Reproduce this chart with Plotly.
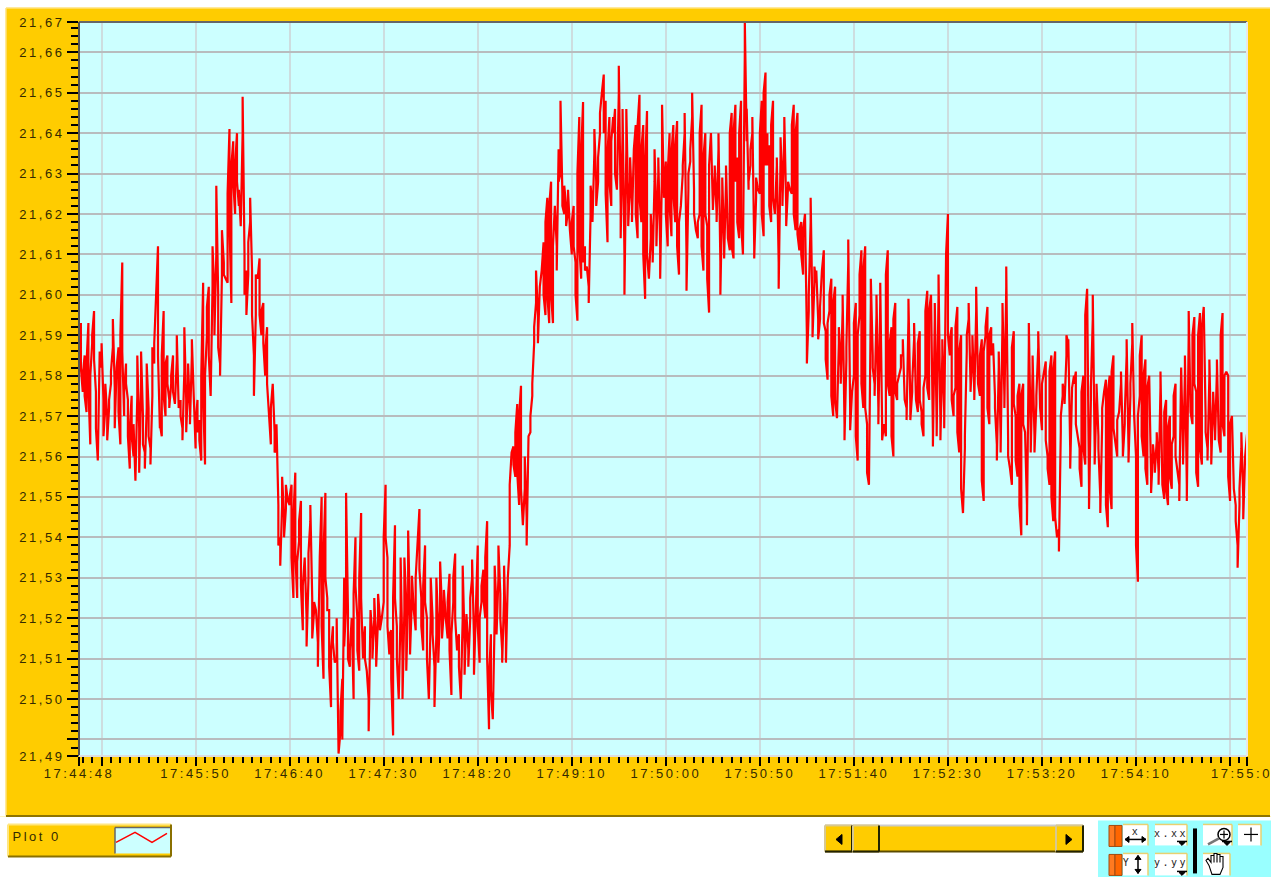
import numpy as np
import pandas as pd
import plotly.graph_objects as go

DAY = "2024-01-01 "
segment_edges = ["17:44:48", "17:45:50", "17:46:40", "17:47:30", "17:48:20", "17:49:10", "17:50:00",
                 "17:50:50", "17:51:40", "17:52:30", "17:53:20", "17:54:10", "17:55:09"]

seg01 = [21.581,21.593,21.576,21.585,21.571,21.593,21.563,21.588,21.596,21.576,21.559,21.586,21.588,21.565,21.578,
         21.564,21.574,21.581,21.594,21.567,21.587,21.563,21.608,21.570,21.583,21.574,21.557,21.575,21.560,21.554,
         21.585,21.556,21.586,21.563,21.557,21.583,21.565,21.558,21.587,21.588,21.612,21.567,21.565,21.596,21.570,
         21.585,21.574,21.578,21.585,21.573,21.590,21.572,21.570,21.564,21.592,21.566,21.583,21.568,21.589]
seg02 = [21.562,21.574,21.569,21.559,21.603,21.558,21.590,21.602,21.575,21.612,21.590,21.627,21.587,21.580,21.616,
         21.605,21.603,21.641,21.598,21.638,21.620,21.640,21.622,21.617,21.649,21.600,21.595,21.613,21.624,21.595,
         21.575,21.605,21.609,21.590,21.598,21.580,21.592,21.570,21.563,21.578,21.561,21.568,21.538,21.533,21.555,
         21.540,21.553]
seg03 = [21.548,21.553,21.525,21.556,21.525,21.539,21.549,21.517,21.535,21.513,21.536,21.548,21.515,21.524,21.522,
         21.508,21.550,21.505,21.551,21.525,21.522,21.498,21.518,21.509,21.520,21.4865,21.497,21.490,21.513,21.551,
         21.510,21.512,21.500,21.540,21.520,21.507,21.546,21.510,21.518,21.507,21.492,21.522,21.510,21.525,21.508,
         21.526,21.517]
seg04 = [21.524,21.553,21.535,21.511,21.517,21.491,21.543,21.518,21.500,21.535,21.500,21.535,21.507,21.5417,21.511,
         21.5305,21.517,21.538,21.547,21.525,21.512,21.538,21.520,21.500,21.530,21.516,21.498,21.530,21.509,21.534,
         21.515,21.527,21.515,21.531,21.501,21.524,21.536,21.512,21.516,21.500,21.533,21.506,21.521,21.508,21.525,
         21.5345,21.506]
seg05 = [21.538,21.509,21.524,21.532,21.520,21.544,21.4925,21.516,21.495,21.533,21.516,21.538,21.520,21.509,21.533,
         21.509,21.538,21.560,21.5625,21.555,21.573,21.548,21.5775,21.543,21.560,21.538,21.565,21.570,21.578,21.592,
         21.606,21.588,21.605,21.613,21.595,21.624,21.593,21.628,21.593,21.622,21.606,21.628,21.648,21.622,21.627,
         21.617,21.626]
seg06 = [21.610,21.622,21.608,21.5936,21.644,21.604,21.6477,21.612,21.607,21.598,21.627,21.618,21.641,21.622,21.634,
         21.645,21.6545,21.648,21.613,21.644,21.622,21.644,21.646,21.626,21.6567,21.614,21.646,21.600,21.646,21.617,
         21.634,21.618,21.642,21.614,21.6495,21.618,21.642,21.599,21.6455,21.604,21.620,21.608,21.636,21.612,21.634,
         21.604,21.647]
seg07 = [21.633,21.612,21.640,21.6145,21.642,21.618,21.643,21.605,21.622,21.632,21.645,21.601,21.630,21.636,21.650,
         21.620,21.614,21.620,21.647,21.606,21.640,21.617,21.5956,21.640,21.621,21.632,21.618,21.640,21.600,21.629,
         21.609,21.632,21.611,21.645,21.609,21.647,21.634,21.614,21.648,21.610,21.6675,21.646,21.628,21.636,21.644,
         21.609,21.629]
seg08 = [21.625,21.648,21.6145,21.655,21.640,21.637,21.618,21.648,21.620,21.634,21.6015,21.639,21.622,21.644,21.617,
         21.628,21.625,21.647,21.616,21.645,21.611,21.618,21.605,21.620,21.583,21.600,21.624,21.5895,21.607,21.606,
         21.589,21.597,21.611,21.591,21.579,21.596,21.604,21.570,21.602,21.5695,21.592,21.578,21.600,21.564,21.587,
         21.6137,21.5665]
seg09 = [21.580,21.598,21.559,21.595,21.611,21.572,21.612,21.568,21.553,21.604,21.582,21.575,21.600,21.568,21.603,
         21.564,21.565,21.611,21.575,21.592,21.560,21.598,21.574,21.580,21.585,21.589,21.574,21.569,21.599,21.569,
         21.578,21.593,21.571,21.591,21.571,21.565,21.580,21.601,21.574,21.600,21.5625,21.598,21.565,21.605,21.564,
         21.589,21.567]
seg10 = [21.620,21.585,21.592,21.570,21.577,21.597,21.561,21.590,21.546,21.565,21.590,21.598,21.576,21.590,21.574,
         21.602,21.575,21.589,21.549,21.590,21.597,21.568,21.592,21.588,21.572,21.559,21.586,21.561,21.598,21.572,
         21.607,21.560,21.553,21.591,21.570,21.555,21.578,21.5405,21.578,21.566,21.543,21.593,21.561,21.585,21.561,
         21.575,21.591]
seg11 = [21.5665,21.581,21.5835,21.560,21.553,21.585,21.544,21.586,21.540,21.5365,21.570,21.578,21.573,21.590,21.589,
         21.557,21.580,21.581,21.565,21.562,21.5525,21.580,21.558,21.6015,21.547,21.577,21.600,21.558,21.578,21.562,
         21.546,21.572,21.579,21.5425,21.580,21.547,21.585,21.564,21.560,21.571,21.581,21.560,21.570,21.589,21.5585,
         21.578,21.593]
seg12 = [21.560,21.529,21.575,21.590,21.560,21.584,21.553,21.580,21.551,21.563,21.556,21.566,21.553,21.581,21.5495,
         21.574,21.548,21.570,21.552,21.565,21.578,21.557,21.549,21.582,21.558,21.585,21.549,21.596,21.568,21.5945,
         21.576,21.5525,21.5955,21.558,21.597,21.566,21.559,21.584,21.558,21.576,21.564,21.584,21.561,21.5955,21.565,
         21.581,21.580,21.549,21.570,21.552,21.544,21.5325,21.552,21.566,21.5445,21.5655]
# in-between readings of the dense trace, one after each reading above
mid01 = [21.587,21.582,21.580,21.575,21.583,21.577,21.580,21.590,21.584,21.567,21.581,21.582,21.574,21.572,21.570,
         21.572,21.578,21.587,21.577,21.582,21.571,21.590,21.586,21.576,21.578,21.565,21.567,21.565,21.568,21.575,
         21.567,21.577,21.570,21.561,21.572,21.572,21.562,21.575,21.583,21.600,21.585,21.568,21.585,21.575,21.583,
         21.578,21.572,21.580,21.576,21.584,21.574,21.574,21.567,21.581,21.574,21.578,21.571,21.585,21.575]
mid02 = [21.568,21.566,21.564,21.580,21.575,21.580,21.597,21.585,21.602,21.600,21.610,21.600,21.583,21.605,21.608,
         21.604,21.625,21.618,21.632,21.628,21.632,21.628,21.626,21.640,21.610,21.606,21.605,21.618,21.606,21.585,
         21.595,21.604,21.595,21.596,21.588,21.586,21.578,21.570,21.572,21.566,21.562,21.548,21.540,21.548,21.545,
         21.547,21.549]
mid03 = [21.550,21.535,21.545,21.536,21.534,21.544,21.528,21.528,21.520,21.530,21.544,21.525,21.522,21.522,21.514,
         21.535,21.518,21.536,21.530,21.522,21.508,21.512,21.514,21.510,21.495,21.492,21.505,21.530,21.523,21.522,
         21.508,21.520,21.526,21.528,21.512,21.530,21.525,21.512,21.510,21.500,21.516,21.515,21.520,21.514,21.520,
         21.520,21.520]
mid04 = [21.540,21.540,21.518,21.516,21.505,21.525,21.525,21.510,21.522,21.510,21.522,21.524,21.525,21.520,21.525,
         21.522,21.530,21.540,21.532,21.518,21.528,21.524,21.510,21.520,21.520,21.508,21.516,21.518,21.522,21.522,
         21.522,21.520,21.524,21.512,21.516,21.530,21.520,21.514,21.508,21.520,21.514,21.518,21.512,21.520,21.530,
         21.515,21.522]
mid05 = [21.518,21.520,21.528,21.525,21.535,21.510,21.505,21.502,21.520,21.522,21.530,21.526,21.512,21.525,21.515,
         21.530,21.553,21.561,21.558,21.566,21.556,21.570,21.552,21.552,21.545,21.560,21.566,21.575,21.588,21.598,
         21.595,21.602,21.606,21.600,21.618,21.600,21.622,21.600,21.612,21.612,21.636,21.630,21.625,21.620,21.622,
         21.621,21.616]
mid06 = [21.618,21.612,21.600,21.630,21.612,21.635,21.608,21.606,21.602,21.620,21.622,21.635,21.628,21.628,21.640,
         21.650,21.640,21.625,21.635,21.628,21.638,21.640,21.630,21.650,21.622,21.640,21.610,21.636,21.622,21.628,
         21.622,21.636,21.620,21.642,21.624,21.636,21.610,21.632,21.610,21.614,21.610,21.628,21.618,21.630,21.612,
         21.632,21.624]
mid07 = [21.620,21.630,21.622,21.635,21.625,21.636,21.612,21.618,21.630,21.640,21.610,21.626,21.633,21.644,21.626,
         21.616,21.618,21.640,21.612,21.634,21.620,21.604,21.632,21.622,21.630,21.620,21.636,21.608,21.625,21.612,
         21.628,21.614,21.640,21.612,21.640,21.628,21.618,21.640,21.618,21.660,21.638,21.626,21.632,21.640,21.612,
         21.624,21.626]
mid08 = [21.640,21.620,21.650,21.632,21.632,21.622,21.642,21.624,21.632,21.608,21.634,21.625,21.640,21.622,21.627,
         21.626,21.642,21.620,21.640,21.615,21.616,21.610,21.616,21.590,21.596,21.618,21.594,21.603,21.603,21.594,
         21.594,21.606,21.593,21.584,21.593,21.600,21.575,21.598,21.574,21.588,21.582,21.596,21.568,21.584,21.608,
         21.572,21.576]
mid09 = [21.593,21.565,21.590,21.605,21.578,21.606,21.572,21.556,21.598,21.585,21.578,21.595,21.572,21.598,21.568,
         21.568,21.605,21.578,21.588,21.565,21.594,21.576,21.578,21.582,21.585,21.577,21.572,21.594,21.573,21.576,
         21.589,21.574,21.588,21.574,21.568,21.577,21.596,21.577,21.596,21.566,21.594,21.568,21.600,21.568,21.585,
         21.571,21.610]
mid10 = [21.590,21.589,21.574,21.575,21.592,21.566,21.586,21.552,21.562,21.586,21.594,21.578,21.586,21.576,21.596,
         21.578,21.585,21.554,21.586,21.592,21.572,21.590,21.585,21.575,21.563,21.582,21.565,21.593,21.575,21.602,
         21.564,21.557,21.587,21.573,21.559,21.575,21.548,21.575,21.568,21.548,21.588,21.565,21.581,21.565,21.573,
         21.587,21.572]
mid11 = [21.578,21.581,21.564,21.557,21.581,21.550,21.581,21.545,21.542,21.566,21.575,21.575,21.585,21.588,21.562,
         21.577,21.578,21.568,21.565,21.557,21.576,21.562,21.595,21.552,21.574,21.594,21.562,21.575,21.565,21.550,
         21.568,21.576,21.548,21.576,21.552,21.581,21.567,21.563,21.569,21.578,21.563,21.568,21.585,21.562,21.575,
         21.588,21.570]
mid12 = [21.538,21.570,21.585,21.565,21.580,21.557,21.577,21.555,21.561,21.558,21.564,21.556,21.577,21.553,21.571,
         21.552,21.567,21.555,21.563,21.575,21.560,21.553,21.578,21.561,21.581,21.553,21.590,21.571,21.590,21.578,
         21.556,21.590,21.562,21.592,21.570,21.562,21.580,21.562,21.574,21.566,21.581,21.564,21.590,21.568,21.580,
         21.581,21.555,21.568,21.555,21.548,21.538,21.548,21.562,21.550,21.560,21.562]
segments = [seg01, seg02, seg03, seg04, seg05, seg06, seg07, seg08, seg09, seg10, seg11, seg12]
middles = [mid01, mid02, mid03, mid04, mid05, mid06, mid07, mid08, mid09, mid10, mid11, mid12]

x_tick_times = ["17:44:48", "17:45:00", "17:45:50", "17:46:40", "17:47:30", "17:48:20", "17:49:10", "17:50:00",
                "17:50:50", "17:51:40", "17:52:30", "17:53:20", "17:54:10", "17:55:00", "17:55:09"]
x_tick_text = ["17:44:48", "", "17:45:50", "17:46:40", "17:47:30", "17:48:20", "17:49:10", "17:50:00",
               "17:50:50", "17:51:40", "17:52:30", "17:53:20", "17:54:10", "", ""]
x_end_label = "17:55:09"
y_tick_vals = [21.4859, 21.49, 21.50, 21.51, 21.52, 21.53, 21.54, 21.55, 21.56, 21.57, 21.58, 21.59,
               21.60, 21.61, 21.62, 21.63, 21.64, 21.65, 21.66, 21.6675]
y_tick_text = ["21,49", "", "21,50", "21,51", "21,52", "21,53", "21,54", "21,55", "21,56", "21,57", "21,58", "21,59",
               "21,60", "21,61", "21,62", "21,63", "21,64", "21,65", "21,66", "21,67"]

# Time stamps evenly inside each clock segment; readings and in-between readings alternate
times, values = [], []
for k, (s, m) in enumerate(zip(segments, middles)):
    a = pd.Timestamp(DAY + segment_edges[k])
    b = pd.Timestamp(DAY + segment_edges[k + 1])
    merged = [v for pair in zip(s, m) for v in pair]
    last = k == len(segments) - 1
    if last:
        merged = merged[:-1]
    fr = np.linspace(0, 1, len(merged), endpoint=last)
    times += [a + (b - a) * float(f) for f in fr]
    values += merged

W, H = 1271, 877
L, R, T, B = 79, 1247, 22, 756.5
ORANGE = "#FFCC00"
CYAN = "#CCFFFF"
TXT = "#332A00"
FONT = "Liberation Sans, Arial, sans-serif"


def px(x):
    return (x - L) / (R - L)


def py(y):
    return 1 - (y - T) / (B - T)


shapes = []


def rect(x0, y0, x1, y1, fill, line=None, lw=0, layer="above"):
    shapes.append(dict(type="rect", xref="paper", yref="paper", x0=px(x0), x1=px(x1), y0=py(y0), y1=py(y1),
                       fillcolor=fill, line=dict(color=line or fill, width=lw), layer=layer))


def seg(x0, y0, x1, y1, col, lw=1, layer="above"):
    shapes.append(dict(type="line", xref="paper", yref="paper", x0=px(x0), x1=px(x1), y0=py(y0), y1=py(y1),
                       line=dict(color=col, width=lw), layer=layer))


def poly(pts, col, lw=1, fill=None, close=False):
    d = "M " + " L ".join(f"{px(a):.5f},{py(b):.5f}" for a, b in pts) + (" Z" if close else "")
    shapes.append(dict(type="path", xref="paper", yref="paper", path=d,
                       line=dict(color=col, width=lw), fillcolor=fill or "rgba(0,0,0,0)", layer="above"))


def bevel(x0, y0, x1, y1, light="#FFE680", dark="#8A7000", lw=2):
    seg(x0, y0, x1, y0, light, lw)
    seg(x0, y0, x0, y1, light, lw)
    seg(x0, y1, x1, y1, dark, lw)
    seg(x1, y0, x1, y1, dark, lw)


# white surround outside the orange frame (paper is orange)
rect(-3, 817, W + 3, H + 3, "white", layer="below")
rect(-3, -3, 6, 817, "white", layer="below")
rect(-3, -3, W + 3, 8, "white", layer="below")
rect(1270, -3, W + 3, 817, "white", layer="below")
seg(6, 8, 1270, 8, "#FFE27A", 1.5, "below")
seg(6, 8, 6, 816, "#FFE27A", 1.5, "below")
seg(6, 816.5, 1270, 816.5, "#8F7400", 2, "below")

# plot bevel
seg(L, T, R, T, "#666666", 2)
seg(L, T, L, B, "#555555", 2)
seg(L, B, R, B, "#DDDDDD", 2)
seg(R, T, R, B, "#E8E8E8", 2)

# legend box
rect(8, 825, 171, 857, ORANGE)
bevel(8, 825, 171, 857)
rect(115, 828, 170, 854, CYAN)
seg(115, 828, 170, 828, "#666666", 1.5)
seg(115, 828, 115, 854, "#666666", 1.5)
poly([(116, 843), (135, 833), (152, 843), (167, 834)], "#FF0000", 1.5)

# scrollbar
rect(825, 826, 1083, 852, ORANGE)
bevel(825, 826, 1083, 852, "#CCCCCC", "#5A4A00")
for a, b in [(825, 852), (853, 879), (1056, 1083)]:
    rect(a, 826, b, 852, ORANGE)
    bevel(a, 826, b, 852, "#D8C890", "#222200")
poly([(842, 835), (842, 845), (836, 840)], "black", 1, "black", True)
poly([(1066, 835), (1066, 845), (1072, 840)], "black", 1, "black", True)

# toolbar
rect(1098, 821, W + 3, H + 3, "#99FFFF")
for y0, y1 in [(826, 847), (855, 876)]:
    rect(1109, y0, 1115, y1, "#FF7A20", "#A04A10", 1)
    rect(1115, y0, 1122, y1, "#FF6600", "#A04A10", 1)
for a, b, c, d in [(1123, 825, 1148, 846), (1155, 825, 1187, 846), (1203, 825, 1232, 846), (1238, 825, 1261, 846),
                   (1123, 854, 1148, 876), (1155, 854, 1187, 876), (1203, 854, 1230, 876)]:
    rect(a, b, c, d, "white")
    seg(a, b, c, b, "#E8D070", 1.5)
    seg(c, b, c, d, "#E8D070", 1.5)
seg(1195, 829, 1195, 874, "black", 4)
# x arrows
seg(1125, 840, 1146, 840, "black", 1.5)
poly([(1125, 840), (1129, 837), (1129, 843)], "black", 1, "black", True)
poly([(1146, 840), (1142, 837), (1142, 843)], "black", 1, "black", True)
# y arrows
seg(1138, 856, 1138, 874, "black", 1.5)
poly([(1138, 856), (1135, 860), (1141, 860)], "black", 1, "black", True)
poly([(1138, 874), (1135, 870), (1141, 870)], "black", 1, "black", True)
# dropdown carets
for a, yy in [(1182, 846), (1182, 876), (1227, 846)]:
    seg(a - 5, yy - 4, a + 5, yy - 4, "black", 1.5)
    poly([(a - 3, yy - 3), (a + 3, yy - 3), (a, yy)], "black", 1, "black", True)
# magnifier
shapes.append(dict(type="circle", xref="paper", yref="paper", x0=px(1218), x1=px(1230), y0=py(829), y1=py(841),
                   line=dict(color="black", width=1.5), fillcolor="white", layer="above"))
seg(1220, 835, 1228, 835, "black", 1.2)
seg(1224, 831, 1224, 839, "black", 1.2)
seg(1208, 845, 1219, 839, "#777777", 2.5)
# plus
seg(1244, 835, 1258, 835, "black", 1.2)
seg(1251, 828, 1251, 842, "black", 1.2)
# hand
poly([(1209, 866), (1206, 861), (1208, 859), (1211, 863), (1211, 856), (1214, 856), (1214, 863), (1214, 854),
      (1217, 854), (1217, 863), (1217, 855), (1220, 855), (1220, 863), (1220, 857), (1223, 857), (1223, 868),
      (1220, 875), (1212, 875)], "black", 1.1, "white", True)

annotations = [
    dict(x=px(36), y=py(837), text="Plot 0", xref="paper", yref="paper", xanchor="center", yanchor="middle",
         showarrow=False, font=dict(family=FONT, size=13, color=TXT)),
    # end-of-axis label runs past the page edge, as in the reference
    dict(x=px(1246), y=py(774), text=x_end_label, xref="paper", yref="paper", xanchor="center", yanchor="middle",
         showarrow=False, font=dict(family=FONT, size=13, color=TXT)),
]
for xx, yy, tx in [(1136, 832, "x"), (1171, 834, "x.xx"), (1127, 863, "Y"), (1171, 863, "y.yy")]:
    annotations.append(dict(x=px(xx), y=py(yy), text=tx, xref="paper", yref="paper", xanchor="center",
                            yanchor="middle", showarrow=False,
                            font=dict(family="DejaVu Sans Mono, monospace", size=10, color="#222222")))

fig = go.Figure(go.Scatter(x=times, y=values, mode="lines", name="Plot 0",
                           line=dict(color="#FF0000", width=2.2), hoverinfo="x+y"))
fig.update_layout(
    width=W, height=H, autosize=False, showlegend=False,
    margin=dict(l=L, r=W - R, t=T, b=H - B, pad=0),
    paper_bgcolor=ORANGE, plot_bgcolor=CYAN,
    font=dict(family=FONT, size=13, color=TXT),
    shapes=shapes, annotations=annotations,
    xaxis=dict(
        type="date",
        range=[DAY + "17:44:48", DAY + "17:55:09"],
        tickmode="array",
        tickvals=[DAY + t for t in x_tick_times],
        ticktext=x_tick_text,
        tickangle=0,
        ticks="outside", ticklen=9, tickwidth=2, tickcolor="black",
        ticklabelstandoff=-4,
        showgrid=True, gridcolor="#CDDDDF", gridwidth=1.5,
        zeroline=False, showline=False,
        tickfont=dict(family=FONT, size=13, color=TXT),
        minor=dict(ticks="outside", ticklen=6, tickwidth=2, tickcolor="black",
                   dtick=5000, tick0=DAY + "17:45:00", showgrid=False),
    ),
    yaxis=dict(
        range=[21.4859, 21.6675],
        tickmode="array",
        tickvals=y_tick_vals,
        ticktext=y_tick_text,
        ticks="outside", ticklen=11, tickwidth=2, tickcolor="black",
        showgrid=True, gridcolor="#B8BCBE", gridwidth=1.5,
        zeroline=False, showline=False,
        tickfont=dict(family=FONT, size=13, color=TXT),
        minor=dict(ticks="outside", ticklen=7, tickwidth=2, tickcolor="black",
                   dtick=0.002, tick0=21.66, showgrid=False),
    ),
)

post = """
document.body.style.margin='0';
document.documentElement.style.overflow='hidden';
var s=document.createElement('style');
s.textContent='g.xtick text,g.ytick text,.annotation-text{letter-spacing:2.5px}';
document.head.appendChild(s);
"""
fig.write_html("out.html", config={"displayModeBar": False}, post_script=post)
